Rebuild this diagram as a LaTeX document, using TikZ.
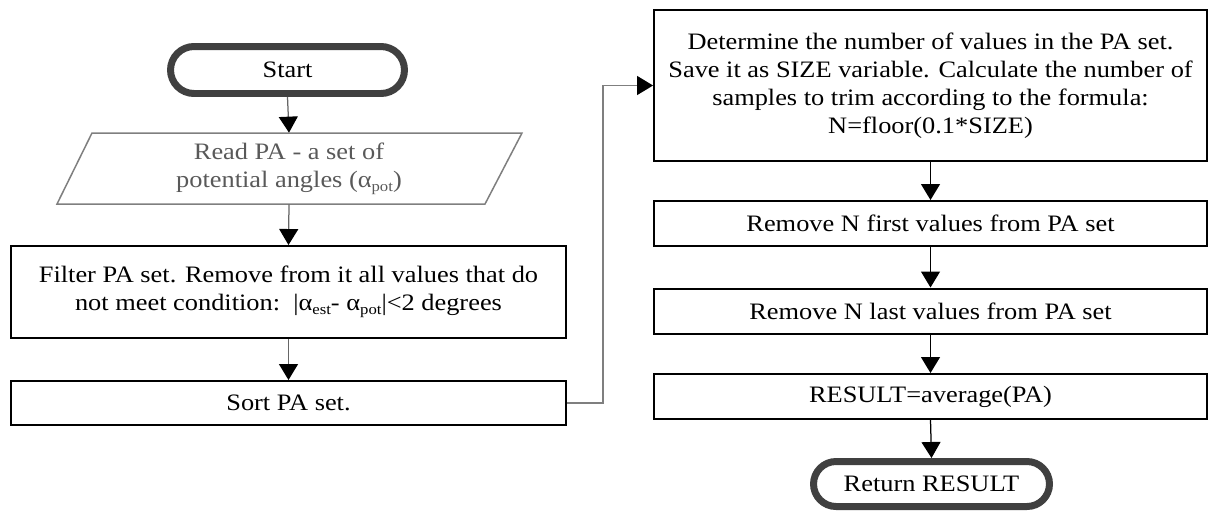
\documentclass[tikz,border=0pt]{standalone}
\usepackage{fontspec}
\setmainfont{Liberation Serif}[FakeStretch=1.12]
\usetikzlibrary{arrows.meta}
\definecolor{termgray}{HTML}{404040}
\definecolor{linegray}{HTML}{7F7F7F}
\definecolor{iogray}{HTML}{595959}
\definecolor{conngray}{HTML}{666666}
\newcommand{\lowsub}[1]{\raisebox{-0.35ex}{\fontsize{8.5}{9}\selectfont #1}}
\begin{document}
\begin{tikzpicture}[x=0.02cm,y=-0.02cm,
  txt/.style={font=\fontsize{13.4}{15.9}\selectfont, align=center, inner sep=0pt},
  procbox/.style={txt, draw=black, line width=0.04cm, rectangle, fill=white},
  leftbox/.style={procbox, minimum width=11.1cm},
  rightbox/.style={procbox, minimum width=11.06cm},
  termbox/.style={txt, draw=termgray, line width=0.14cm, fill=white},
  flowtip/.style={-{Triangle[width=0.38cm,length=0.32cm,color=black]}},
  flowl/.style={flowtip, draw=conngray, line width=0.025cm},
  flowr/.style={flowtip, draw=black, line width=0.025cm},
]
\useasboundingbox (0,0) rectangle (1209,511);

% Left column
\node[termbox, minimum width=4.68cm, minimum height=0.94cm, rounded corners=0.47cm] (start) at (287.5,70) {Start};

\node[txt, text=iogray, minimum width=8.6cm, minimum height=1.42cm] (read) at (289,168.5)
  {Read PA - a set of\\potential angles (α\lowsub{pot})};
\draw[draw=linegray, line width=0.03cm] (92,133) coordinate (r1) -- (522,133) coordinate (r2)
  -- (485,204) coordinate (r3) -- (57,204) coordinate (r4) -- cycle;

\node[leftbox, minimum height=1.84cm] (filter) at (288.5,292)
  {Filter PA set. Remove from it all values that do\\not meet condition:\ \ |α\lowsub{est}- α\lowsub{pot}|<2 degrees};

\node[leftbox, minimum height=0.88cm] (sort) at (288.5,403) {Sort PA set.};

% Right column
\node[rightbox, minimum height=3.02cm] (det) at (930.5,85.5)
  {Determine the number of values in the PA set.\\Save it as SIZE variable. Calculate the number of\\samples to trim according to the formula:\\N=floor(0.1*SIZE)};
\node[rightbox, minimum height=0.9cm] (rmfirst) at (930.5,223.5) {Remove N first values from PA set};
\node[rightbox, minimum height=0.9cm] (rmlast) at (930.5,311) {Remove N last values from PA set};
\node[rightbox, minimum height=0.9cm] (result) at (930.5,396.5) {RESULT=average(PA)};
\node[termbox, minimum width=4.72cm, minimum height=0.9cm, rounded corners=0.45cm] (ret) at (931.5,484) {Return RESULT};

% Connectors
\draw[flowl] (start.south) -- (read.north);
\draw[flowl] (read.south) -- (filter.north);
\draw[flowl] (filter.south) -- (sort.north);
\draw[flowl, draw=linegray] (sort.east) -- ++(36,0) |- (det.west);
\draw[flowr] (det.south) -- (rmfirst.north);
\draw[flowr] (rmfirst.south) -- (rmlast.north);
\draw[flowr] (rmlast.south) -- (result.north);
\draw[flowr] (result.south) -- (ret.north);
\end{tikzpicture}
\end{document}
